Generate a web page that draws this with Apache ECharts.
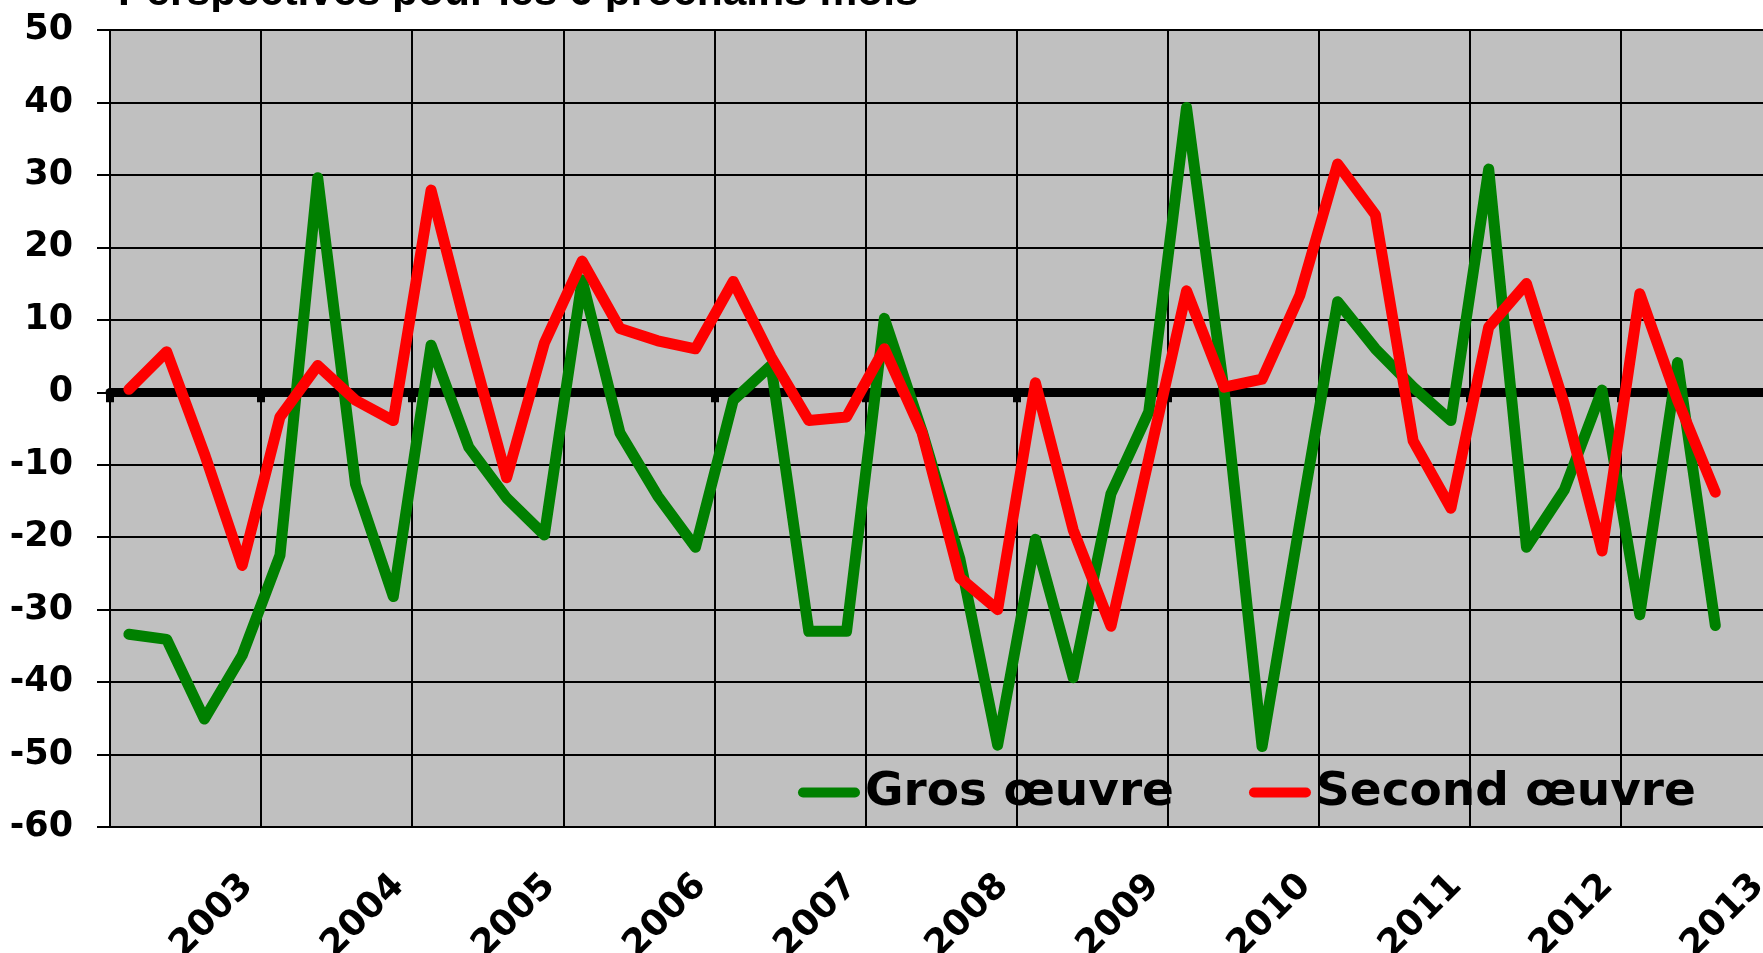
<!DOCTYPE html>
<html>
<head>
<meta charset="utf-8">
<script src="https://cdn.jsdelivr.net/npm/echarts@6/dist/echarts.min.js"></script>
<style>
  html, body { margin: 0; padding: 0; background: #fff; }
  #chart { width: 1763px; height: 953px; }
</style>
</head>
<body>
<div id="chart"></div>
<script>
var title = 'Perspectives pour les 6 prochains mois';
var years = ['2003', '2004', '2005', '2006', '2007', '2008', '2009', '2010', '2011', '2012', '2013'];
var seriesNames = ['Gros œuvre', 'Second œuvre'];

// quarterly balances, first quarter sits in the 2002/2003 band
var grosOeuvre = [
  -33.4, -34.1, -45.1, -36.3, -22.5, 29.6, -12.7, -28.2, 6.5, -7.6, -14.6,
  -19.7, 15.5, -5.6, -14.3, -21.4, -1.1, 3.7, -33.0, -33.0, 10.2, -5.4,
  -23.0, -48.7, -20.3, -39.4, -14.0, -2.7, 39.3, 0.0, -48.9, -18.0, 12.5,
  6.0, 0.7, -3.9, 30.8, -21.4, -13.5, 0.3, -30.7, 4.1, -32.2
];
var secondOeuvre = [
  0.4, 5.6, -8.5, -23.9, -3.4, 3.7, -1.1, -3.9, 27.9, 7.4, -11.8,
  6.8, 18.1, 8.8, 7.1, 6.0, 15.3, 4.9, -3.9, -3.4, 6.0, -5.6,
  -25.6, -30.0, 1.3, -19.0, -32.3, -9.2, 14.0, 0.7, 1.8, 13.4, 31.5,
  24.5, -6.7, -16.0, 9.0, 15.0, -1.6, -21.9, 13.6, -1.1, -13.8
];

var perYear = 4;
var xMax = years.length * perYear;
var font = 'DejaVu Sans';
var pill = 'path://M5,0 L57,0 A5,5 0 0 1 57,10 L5,10 A5,5 0 0 1 5,0 Z';

function toPoints(values) {
  return values.map(function(v, i) {
    return [i + 0.5, v];
  });
}

function lineSeries(name, values, color) {
  return {
    name: name,
    type: 'line',
    xAxisIndex: 0,
    data: toPoints(values),
    symbol: 'none',
    itemStyle: { color: color },
    lineStyle: { color: color, width: 11, cap: 'round', join: 'round' }
  };
}

var chart = echarts.init(document.getElementById('chart'));

chart.setOption({
  animation: false,
  title: {
    text: title,
    left: 113,
    top: -33,
    textStyle: { fontFamily: 'Liberation Sans', fontSize: 42.5, fontWeight: 'bold', color: '#000' }
  },
  // the original picture is cut just under the title letters
  graphic: [{
    type: 'rect',
    z: 100,
    shape: { x: 110, y: 12, width: 900, height: 16 },
    style: { fill: '#fff' }
  }],
  grid: {
    left: 110,
    right: -9,
    top: 30,
    bottom: 126,
    outerBoundsMode: 'none',
    show: true,
    backgroundColor: '#c0c0c0',
    borderWidth: 0
  },
  legend: {
    data: seriesNames,
    left: 793,
    top: 764,
    icon: pill,
    itemWidth: 62,
    itemHeight: 10,
    itemGap: 75,
    textStyle: { fontFamily: font, fontSize: 47, fontWeight: 'bold', color: '#000' }
  },
  xAxis: [{
    type: 'value',
    min: 0,
    max: xMax,
    interval: perYear,
    position: 'bottom',
    axisLine: { onZero: false, lineStyle: { color: '#000', width: 2 } },
    axisTick: { show: false },
    axisLabel: {
      rotate: 45,
      margin: 40,
      padding: [0, 19, 0, 0],
      fontFamily: font,
      fontSize: 36,
      fontWeight: 'bold',
      color: '#000',
      showMaxLabel: true,
      formatter: function(v) {
        return v === 0 ? '' : years[v / perYear - 1];
      }
    },
    splitLine: { show: true, lineStyle: { color: '#000', width: 2 } }
  }, {
    // thick zero line with its little ticks
    type: 'value',
    min: 0,
    max: xMax,
    interval: perYear,
    position: 'bottom',
    axisLine: { onZero: true, lineStyle: { color: '#000', width: 9 } },
    axisTick: { show: true, length: 10, lineStyle: { color: '#000', width: 8 } },
    axisLabel: { show: false },
    splitLine: { show: false }
  }],
  yAxis: {
    type: 'value',
    min: -60,
    max: 50,
    interval: 10,
    axisLine: { show: true, onZero: false, lineStyle: { color: '#000', width: 2 } },
    axisTick: { show: true, length: 13, lineStyle: { color: '#000', width: 2 } },
    axisLabel: { margin: 37, fontFamily: font, fontSize: 35, fontWeight: 'bold', color: '#000' },
    splitLine: { show: true, lineStyle: { color: '#000', width: 2 } }
  },
  series: [
    lineSeries(seriesNames[0], grosOeuvre, '#008000'),
    lineSeries(seriesNames[1], secondOeuvre, '#ff0000')
  ]
});
</script>
</body>
</html>
